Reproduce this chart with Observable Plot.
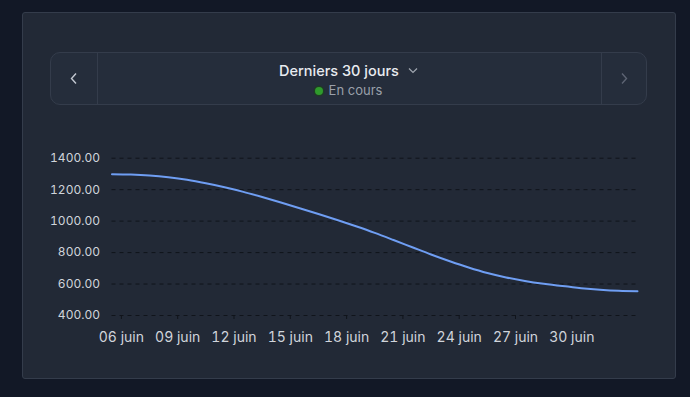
<!DOCTYPE html>
<html>
<head>
<meta charset="utf-8">
<script src="https://cdn.jsdelivr.net/npm/d3@7"></script>
<script src="https://cdn.jsdelivr.net/npm/@observablehq/plot@0.6"></script>
<style>
  html, body { margin: 0; padding: 0; }
  body { width: 690px; height: 397px; background: #121826; font-family: Inter, "Noto Sans", sans-serif; position: relative; overflow: hidden; }
  .card { position: absolute; left: 22px; top: 12px; width: 652px; height: 365px; background: #222936; border: 1px solid #343c4b; border-radius: 3px; }
  .head { position: absolute; left: 50px; top: 52px; width: 595px; height: 51px; background: #252d3b; border: 1px solid #343c4b; border-radius: 10px; }
  .div1 { position: absolute; left: 46px; top: 0; width: 1px; height: 51px; background: #343c4b; }
  .div2 { position: absolute; left: 550px; top: 0; width: 1px; height: 51px; background: #343c4b; }
  .title { position: absolute; left: 0; right: 0; top: 9px; text-align: center; color: #e8ebf0; font-size: 14.5px; font-weight: 500; }
  .sub { position: absolute; left: 0; right: 0; top: 29px; text-align: center; color: #9aa0aa; font-size: 13px; }
  .dot { display: inline-block; width: 8px; height: 8px; border-radius: 50%; background: #2f9a2c; box-shadow: 0 0 0 1.5px #1f3a26; margin-right: 6px; vertical-align: 0px; }
  #chart { position: absolute; left: 22px; top: 130px; }
  #chart svg g[aria-label="y-axis tick label"] { font-size: 12px; }
  #chart svg g[aria-label="x-axis tick label"] { font-size: 14px; }
</style>
</head>
<body>
<div class="card"></div>
<div class="head">
  <div class="div1"></div>
  <div class="div2"></div>
  <svg style="position:absolute;left:18px;top:19px" width="10" height="14"><path d="M7 1.5 L2.5 6.5 L7 11.5" fill="none" stroke="#c3c8d1" stroke-width="1.4"/></svg>
  <svg style="position:absolute;left:568px;top:19px" width="10" height="14"><path d="M3 1.5 L7.5 6.5 L3 11.5" fill="none" stroke="#5d6473" stroke-width="1.4"/></svg>
  <div class="title">Derniers 30 jours<svg style="margin-left:9px;vertical-align:2px" width="10" height="7"><path d="M1 1.5 L5 5.5 L9 1.5" fill="none" stroke="#a0a6b0" stroke-width="1.2"/></svg></div>
  <div class="sub"><span class="dot"></span>En cours</div>
</div>
<div id="chart"></div>
<script>
// Data: daily values from 5 June to 3 July
const startDate = "2024-06-05T12:00:00Z";
const values = [1298, 1296, 1290, 1279, 1263, 1241, 1215, 1186, 1153, 1118, 1082, 1045, 1007, 967, 925, 880, 834, 788, 745, 705, 670, 642, 620, 602, 587, 574, 564, 557, 554];
const yTicks = [400, 600, 800, 1000, 1200, 1400];
const xTickDates = ["2024-06-06", "2024-06-09", "2024-06-12", "2024-06-15", "2024-06-18", "2024-06-21", "2024-06-24", "2024-06-27", "2024-06-30"];
const xTickLabels = ["06 juin", "09 juin", "12 juin", "15 juin", "18 juin", "21 juin", "24 juin", "27 juin", "30 juin"];

const t0 = new Date(startDate);
const data = values.map((v, i) => ({date: d3.utcDay.offset(t0, i), value: v}));
const tickDates = xTickDates.map(d => new Date(d + "T00:00:00Z"));
const labelOf = new Map(tickDates.map((d, i) => [+d, xTickLabels[i]]));

const chart = Plot.plot({
  width: 654,
  height: 230,
  marginLeft: 89.5,
  marginRight: 39,
  marginTop: 27.7,
  marginBottom: 45,
  style: {background: "transparent", color: "#d0d4db", fontFamily: "Inter, sans-serif", fontSize: "13px"},
  x: {type: "utc", domain: d3.extent(data, d => d.date)},
  y: {domain: [400, 1400]},
  marks: [
    Plot.ruleY(yTicks, {stroke: "#10141b", strokeWidth: 1, strokeDasharray: "4,4", strokeOpacity: 1}),
    Plot.axisY({ticks: yTicks, tickSize: 0, tickPadding: 12, tickFormat: d => d.toFixed(2), fill: "#d0d4db", label: null}),
    Plot.axisX({ticks: tickDates, tickSize: 4, tickPadding: 13, stroke: "#10141b", tickFormat: d => labelOf.get(+d), fill: "#d0d4db", label: null}),
    Plot.line(data, {x: "date", y: "value", stroke: "#6f9ef3", strokeWidth: 2, curve: "monotone-x"})
  ]
});
document.getElementById("chart").appendChild(chart);
</script>
</body>
</html>
